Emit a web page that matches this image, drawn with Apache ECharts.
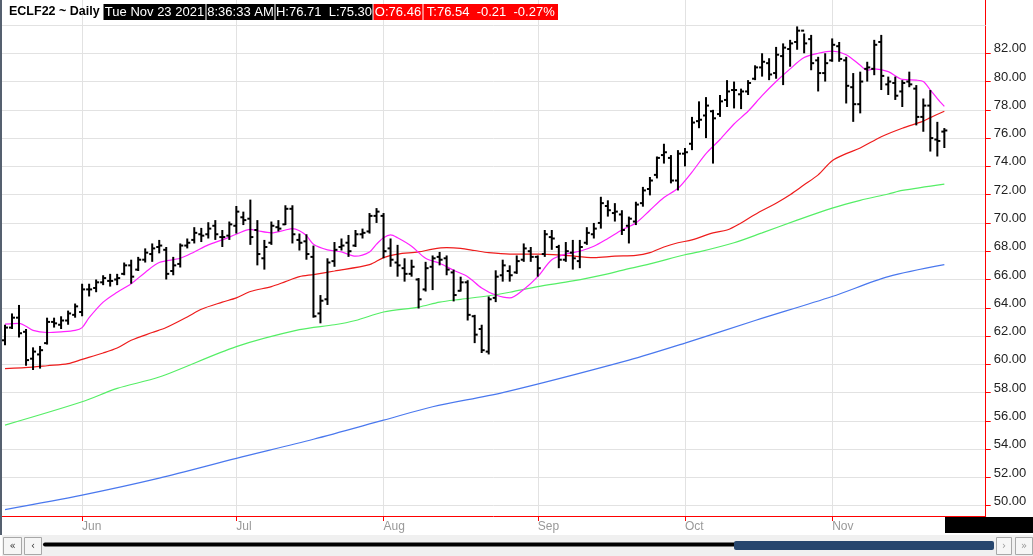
<!DOCTYPE html>
<html>
<head>
<meta charset="utf-8">
<title>ECLF22 ~ Daily</title>
<script src="https://cdn.jsdelivr.net/npm/echarts@6.0.0/dist/echarts.min.js"></script>
<style>
  html, body { margin: 0; padding: 0; background: #fff; }
  #chart { width: 1033px; height: 556px; }
</style>
</head>
<body>
<div id="chart"></div>
<script>
// trading days on the chart
var dates = [
  '2021-05-14','2021-05-17','2021-05-18','2021-05-19','2021-05-20','2021-05-21','2021-05-24','2021-05-25','2021-05-26','2021-05-27','2021-05-28',
  '2021-06-01','2021-06-02','2021-06-03','2021-06-04','2021-06-07','2021-06-08','2021-06-09','2021-06-10','2021-06-11','2021-06-14','2021-06-15',
  '2021-06-16','2021-06-17','2021-06-18','2021-06-21','2021-06-22','2021-06-23','2021-06-24','2021-06-25','2021-06-28','2021-06-29','2021-06-30',
  '2021-07-01','2021-07-02','2021-07-06','2021-07-07','2021-07-08','2021-07-09','2021-07-12','2021-07-13','2021-07-14','2021-07-15','2021-07-16',
  '2021-07-19','2021-07-20','2021-07-21','2021-07-22','2021-07-23','2021-07-26','2021-07-27','2021-07-28','2021-07-29','2021-07-30',
  '2021-08-02','2021-08-03','2021-08-04','2021-08-05','2021-08-06','2021-08-09','2021-08-10','2021-08-11','2021-08-12','2021-08-13','2021-08-16',
  '2021-08-17','2021-08-18','2021-08-19','2021-08-20','2021-08-23','2021-08-24','2021-08-25','2021-08-26','2021-08-27','2021-08-30','2021-08-31',
  '2021-09-01','2021-09-02','2021-09-03','2021-09-07','2021-09-08','2021-09-09','2021-09-10','2021-09-13','2021-09-14','2021-09-15','2021-09-16',
  '2021-09-17','2021-09-20','2021-09-21','2021-09-22','2021-09-23','2021-09-24','2021-09-27','2021-09-28','2021-09-29','2021-09-30',
  '2021-10-01','2021-10-04','2021-10-05','2021-10-06','2021-10-07','2021-10-08','2021-10-11','2021-10-12','2021-10-13','2021-10-14','2021-10-15',
  '2021-10-18','2021-10-19','2021-10-20','2021-10-21','2021-10-22','2021-10-25','2021-10-26','2021-10-27','2021-10-28','2021-10-29',
  '2021-11-01','2021-11-02','2021-11-03','2021-11-04','2021-11-05','2021-11-08','2021-11-09','2021-11-10','2021-11-11','2021-11-12','2021-11-15',
  '2021-11-16','2021-11-17','2021-11-18','2021-11-19','2021-11-22','2021-11-23'
];

var opens = [
  61.7, 62.6, 63.3, 62.3, 60.4, 60.7, 61.5, 63.0, 62.8, 63.1,
  63.5, 63.7, 65.3, 65.4, 65.8, 65.9, 66.0, 66.4, 67.0, 66.7,
  67.4, 67.8, 68.3, 68.1, 66.6, 67.1, 68.4, 68.8, 69.2, 69.2,
  69.8, 69.0, 69.1, 69.8, 70.4, 70.3, 69.5, 67.5, 68.6, 69.7,
  69.9, 71.0, 68.8, 68.7, 67.6, 63.6, 64.6, 67.3, 68.3, 68.6,
  68.4, 69.2, 69.4, 70.5, 70.5, 68.2, 67.2, 66.8, 66.4, 66.0,
  65.3, 66.9, 67.6, 67.5, 66.5, 65.2, 65.8, 63.4, 62.5, 60.9,
  64.7, 66.3, 66.6, 66.5, 67.4, 68.0, 67.6, 67.8, 69.0, 68.3,
  67.4, 67.9, 67.3, 68.6, 69.2, 70.0, 71.2, 70.7, 70.6, 69.8,
  70.1, 71.4, 72.4, 73.4, 74.8, 74.6, 73.0, 74.9, 75.6, 77.2,
  77.6, 77.9, 77.7, 78.7, 79.4, 79.1, 79.3, 80.2, 81.0, 81.3,
  80.6, 81.8, 82.3, 82.8, 83.6, 83.0, 81.5, 80.6, 81.5, 82.5,
  81.5, 79.6, 78.4, 80.9, 80.9, 82.8, 79.8, 79.9, 79.3, 80.0,
  79.5, 77.5, 78.3, 75.9, 76.46
];
var highs = [
  62.8, 63.6, 64.2, 62.5, 61.2, 61.3, 63.3, 63.3, 63.4, 63.8,
  64.3, 65.7, 65.7, 66.0, 66.3, 66.4, 66.4, 67.2, 67.4, 67.6,
  68.2, 68.55, 68.8, 68.3, 67.6, 68.55, 68.9, 69.7, 69.65, 70.05,
  70.2, 69.5, 70.1, 71.2, 70.8, 71.65, 70.2, 68.8, 70.1, 70.2,
  71.25, 71.25, 69.25, 69.2, 68.4, 64.9, 67.5, 68.65, 68.9, 69.15,
  69.5, 69.6, 70.7, 71.05, 70.7, 68.9, 68.45, 67.5, 67.4, 66.1,
  67.25, 67.7, 67.95, 67.7, 66.7, 66.2, 65.95, 63.5, 62.8, 64.8,
  66.65, 67.4, 67.0, 67.7, 68.55, 68.3, 67.7, 69.5, 69.5, 68.45,
  68.65, 68.8, 68.8, 69.7, 70.0, 71.85, 71.6, 71.4, 70.9, 70.45,
  71.5, 72.55, 73.25, 74.7, 75.6, 74.8, 75.15, 75.3, 77.5, 78.6,
  78.9, 78.0, 79.05, 80.1, 80.0, 79.5, 80.1, 81.15, 82.0, 81.65,
  82.45, 82.7, 82.95, 83.9, 83.4, 83.3, 81.75, 82.0, 83.05, 82.8,
  81.75, 80.6, 80.7, 81.4, 82.95, 83.3, 80.35, 80.35, 80.1, 80.7,
  79.75, 78.8, 79.4, 77.15, 76.71
];
var lows = [
  61.35, 62.5, 61.9, 59.9, 59.6, 59.7, 61.4, 62.6, 62.5, 62.8,
  63.3, 63.4, 64.8, 65.1, 65.6, 65.5, 65.6, 66.3, 65.7, 66.6,
  67.2, 67.25, 67.85, 66.0, 66.3, 66.85, 68.2, 68.55, 68.65, 68.9,
  68.8, 68.3, 68.8, 69.25, 69.85, 68.45, 67.0, 66.7, 68.45, 69.4,
  69.85, 68.55, 68.05, 67.4, 63.3, 62.9, 64.2, 66.9, 68.05, 67.6,
  68.3, 68.9, 69.25, 70.0, 67.5, 66.9, 66.2, 65.85, 66.2, 63.95,
  65.15, 65.25, 67.0, 66.3, 64.45, 65.15, 63.1, 61.5, 60.8, 60.7,
  64.4, 65.85, 65.85, 66.4, 67.25, 67.25, 66.2, 67.6, 68.1, 66.8,
  67.25, 66.7, 66.8, 68.45, 68.9, 69.6, 70.45, 70.1, 69.15, 68.55,
  69.85, 71.15, 71.95, 73.15, 74.2, 72.8, 72.3, 74.0, 75.15, 76.7,
  76.0, 74.2, 77.5, 78.2, 78.1, 78.05, 79.05, 80.1, 80.35, 80.1,
  80.2, 79.75, 81.05, 82.25, 82.0, 80.8, 79.3, 80.0, 81.4, 81.4,
  78.45, 77.15, 77.75, 80.0, 80.45, 79.4, 79.05, 78.7, 78.2, 79.6,
  76.9, 76.45, 75.05, 74.7, 75.30
];
var closes = [
  62.6, 63.3, 62.2, 60.3, 60.9, 61.0, 63.0, 62.9, 63.1, 63.6,
  64.1, 65.3, 65.3, 65.8, 66.1, 65.9, 66.1, 67.0, 66.2, 67.4,
  67.9, 68.2, 68.4, 66.4, 67.0, 68.4, 68.6, 69.3, 69.1, 69.6,
  69.2, 69.0, 69.9, 70.8, 70.2, 69.0, 67.8, 68.3, 69.8, 69.6,
  71.0, 69.2, 68.6, 67.8, 63.4, 64.5, 67.2, 68.1, 68.4, 68.0,
  69.2, 69.3, 70.5, 70.8, 68.0, 67.4, 67.0, 66.4, 66.9, 64.6,
  66.8, 67.5, 67.4, 66.7, 64.9, 65.8, 63.5, 62.1, 61.0, 64.6,
  66.2, 67.0, 66.3, 67.3, 68.2, 67.6, 66.8, 69.2, 68.9, 67.4,
  68.0, 67.5, 68.3, 69.3, 69.6, 71.4, 70.9, 70.8, 69.5, 70.3,
  71.3, 72.3, 73.0, 74.6, 75.0, 73.0, 74.9, 75.0, 77.1, 77.3,
  78.3, 77.4, 78.6, 79.3, 79.4, 79.3, 79.9, 81.0, 81.4, 80.5,
  81.9, 82.4, 82.7, 83.6, 82.7, 81.3, 80.6, 81.3, 82.6, 81.6,
  79.7, 78.4, 80.0, 81.0, 82.6, 80.4, 80.0, 79.0, 79.9, 79.8,
  77.5, 78.3, 76.0, 75.8, 76.54
];

// moving averages: [bar index, value]
var maFast = [
  [0,62.85],[2,62.9],[4,62.4],[6,62.25],[8,62.3],[10,62.4],[11,62.6],[12,63.3],[14,64.4],[16,65.1],
  [18,65.7],[20,66.5],[22,67.2],[25,67.5],[27,67.95],[29,68.45],[31,68.8],[33,69.2],[35,69.55],[36,69.45],
  [38,69.3],[40,69.5],[41,69.6],[42,69.45],[43,69.1],[44,68.5],[46,68.1],[48,67.95],[50,67.65],[52,67.95],
  [53,68.5],[54,68.95],[55,69.15],[56,68.95],[58,68.35],[60,67.5],[62,67.15],[64,66.65],[66,66.2],[68,65.4],
  [70,64.9],[72,64.7],[74,65.3],[76,66.2],[78,67.4],[80,67.8],[82,68.0],[84,68.35],[86,68.9],[88,69.5],
  [90,70.0],[92,70.9],[94,71.8],[96,72.45],[98,73.6],[100,74.9],[102,75.9],[104,77.0],[106,77.9],[108,79.0],
  [110,80.0],[112,80.9],[114,81.7],[116,82.0],[118,82.15],[120,81.9],[122,81.15],[123,80.8],[124,80.9],[126,80.7],
  [128,80.15],[130,80.1],[131,80.0],[132,79.4],[133,78.8],[134,78.25]
];
var maMid = [
  [0,59.7],[4,59.8],[6,59.9],[9,60.05],[11,60.35],[14,60.8],[16,61.15],[18,61.7],[21,62.25],[23,62.6],
  [26,63.35],[28,63.9],[31,64.4],[33,64.7],[35,65.15],[38,65.5],[40,65.85],[42,66.2],[44,66.35],[47,66.6],
  [52,67.05],[54,67.55],[56,67.8],[59,67.95],[61,68.15],[63,68.25],[65,68.2],[67,68.05],[69,67.9],[72,67.8],
  [76,67.8],[80,67.7],[84,67.55],[87,67.65],[90,67.7],[92,67.9],[94,68.3],[96,68.6],[98,68.8],[101,69.3],
  [103,69.5],[105,70.0],[107,70.6],[110,71.4],[112,72.0],[114,72.7],[116,73.4],[118,74.4],[120,74.9],[122,75.3],
  [125,76.1],[128,76.7],[131,77.2],[132,77.45],[134,77.9]
];
var maSlow = [
  [0,55.7],[11,57.35],[16,58.3],[22,59.1],[33,61.25],[42,62.45],[47,62.8],[50,63.1],[54,63.7],[59,64.05],
  [62,64.4],[65,64.6],[69,64.85],[72,65.1],[76,65.5],[81,65.9],[86,66.4],[88,66.65],[92,67.1],[97,67.75],
  [99,67.95],[104,68.6],[108,69.3],[113,70.2],[118,71.05],[122,71.6],[126,72.05],[128,72.3],[134,72.75]
];
var maLong = [
  [0,49.73],[11,50.75],[22,51.95],[33,53.35],[44,54.7],[54,56.05],[61,57.0],[71,58.0],[89,60.3],[97,61.5],
  [107,63.1],[118,64.8],[126,66.2],[134,67.05]
];

var monthNames = ['Jan','Feb','Mar','Apr','May','Jun','Jul','Aug','Sep','Oct','Nov','Dec'];
var priceTicks = [50,52,54,56,58,60,62,64,66,68,70,72,74,76,78,80,82];

var headerTitle = 'ECLF22 ~ Daily';
var headerBoxes = [
  { x: 103.5, w: 102, color: '#000', text: 'Tue Nov 23 2021' },
  { x: 206.5, w: 68, color: '#000', text: '8:36:33 AM' },
  { x: 275.5, w: 97, color: '#000', text: 'H:76.71  L:75.30' },
  { x: 373.5, w: 49, color: '#ff0000', text: 'O:76.46' },
  { x: 423.5, w: 134.5, color: '#ff0000', text: 'T:76.54  -0.21  -0.27%' }
];

var ohlc = dates.map(function (d, i) {
  return [i, opens[i], highs[i], lows[i], closes[i]];
});
// first bar of each month gets a tick
var monthStarts = [];
dates.forEach(function (d, i) {
  if (i > 0 && d.slice(5, 7) !== dates[i - 1].slice(5, 7)) monthStarts.push(i);
});

function renderOhlc(params, api) {
  var i = api.value(0);
  var op = api.coord([i, api.value(1)]);
  var hi = api.coord([i, api.value(2)]);
  var lo = api.coord([i, api.value(3)]);
  var cl = api.coord([i, api.value(4)]);
  var st = { stroke: '#000', lineWidth: 2 };
  return {
    type: 'group',
    children: [
      { type: 'line', shape: { x1: hi[0], y1: hi[1], x2: lo[0], y2: lo[1] }, style: st },
      { type: 'line', shape: { x1: op[0] - 3, y1: op[1], x2: op[0], y2: op[1] }, style: st },
      { type: 'line', shape: { x1: cl[0], y1: cl[1], x2: cl[0] + 3, y2: cl[1] }, style: st }
    ]
  };
}

function maLine(data, color) {
  return {
    type: 'line', xAxisIndex: 0, yAxisIndex: 0, data: data,
    showSymbol: false, symbol: 'none', silent: true, z: 2, smooth: 0.3,
    lineStyle: { color: color, width: 1.2 }
  };
}

var graphics = [
  // window edge
  { type: 'rect', z: 100, shape: { x: 0, y: 0, width: 2, height: 535 }, style: { fill: '#55606f' } },
  { type: 'text', z: 100, x: 9, y: 12, style: { text: headerTitle, fill: '#000', font: 'bold 12.5px "Liberation Sans"', verticalAlign: 'middle' } },
  // box under the x labels at right
  { type: 'rect', z: 100, shape: { x: 945, y: 517, width: 88, height: 16 }, style: { fill: '#000' } },
  // scroll bar
  { type: 'rect', z: 100, shape: { x: 2, y: 535, width: 1031, height: 21 }, style: { fill: '#f0f0f0' } },
  { type: 'rect', z: 101, shape: { x: 3.5, y: 537.5, width: 18, height: 17 }, style: { fill: '#f6f6f6', stroke: '#a8a8a8' } },
  { type: 'rect', z: 101, shape: { x: 24.5, y: 537.5, width: 17, height: 17 }, style: { fill: '#f6f6f6', stroke: '#a8a8a8' } },
  { type: 'rect', z: 101, shape: { x: 996.5, y: 537.5, width: 15, height: 17 }, style: { fill: '#f6f6f6', stroke: '#a8a8a8' } },
  { type: 'rect', z: 101, shape: { x: 1015.5, y: 537.5, width: 17, height: 17 }, style: { fill: '#f6f6f6', stroke: '#a8a8a8' } },
  { type: 'text', z: 102, x: 12.5, y: 546, style: { text: '«', fill: '#333', font: '10px "DejaVu Sans"', align: 'center', verticalAlign: 'middle' } },
  { type: 'text', z: 102, x: 33, y: 546, style: { text: '‹', fill: '#333', font: '10px "DejaVu Sans"', align: 'center', verticalAlign: 'middle' } },
  { type: 'text', z: 102, x: 1004, y: 546, style: { text: '›', fill: '#999', font: '10px "DejaVu Sans"', align: 'center', verticalAlign: 'middle' } },
  { type: 'text', z: 102, x: 1024, y: 546, style: { text: '»', fill: '#999', font: '10px "DejaVu Sans"', align: 'center', verticalAlign: 'middle' } },
  { type: 'line', z: 101, shape: { x1: 45, y1: 544.5, x2: 736, y2: 544.5 }, style: { stroke: '#000', lineWidth: 4, lineCap: 'round' } },
  { type: 'rect', z: 102, shape: { x: 734, y: 541, width: 260, height: 9, r: 2 }, style: { fill: '#27466e' } }
];
headerBoxes.forEach(function (b) {
  graphics.push({ type: 'rect', z: 100, shape: { x: b.x, y: 4, width: b.w, height: 16 }, style: { fill: b.color } });
  graphics.push({ type: 'text', z: 101, x: b.x + b.w / 2, y: 12.5, style: { text: b.text, fill: '#fff', font: '13px "Liberation Sans"', align: 'center', verticalAlign: 'middle' } });
});

var chart = echarts.init(document.getElementById('chart'), null, { renderer: 'canvas' });
chart.setOption({
  animation: false,
  backgroundColor: '#fff',
  grid: [
    { left: 1.5, right: 47.3, top: 25, bottom: 22 },
    { left: 1.5, right: 47.3, top: 0, bottom: 40 }
  ],
  xAxis: [
    { gridIndex: 0, type: 'value', min: -0.5, max: 139.9, show: false },
    {
      gridIndex: 1, type: 'value', min: -0.5, max: 139.9, position: 'bottom',
      axisLine: { onZero: false, lineStyle: { color: '#ff0000', width: 1 } },
      axisTick: { customValues: monthStarts, length: 5, lineStyle: { color: '#ff0000' } },
      axisLabel: {
        customValues: monthStarts, color: '#999', fontSize: 12, fontFamily: 'Liberation Sans',
        align: 'left', margin: 5,
        formatter: function (v) { return monthNames[Number(dates[Math.round(v)].slice(5, 7)) - 1]; }
      },
      splitLine: { show: true, lineStyle: { color: '#e2e2e2', width: 1 } }
    }
  ],
  yAxis: [
    {
      gridIndex: 0, type: 'value', min: 48, max: 84, interval: 2, position: 'right',
      axisLine: { show: false, onZero: false },
      axisTick: { show: true, customValues: priceTicks, length: 5, lineStyle: { color: '#ff0000' } },
      axisLabel: {
        customValues: priceTicks, color: '#222', fontSize: 13, fontFamily: 'Liberation Sans',
        margin: 8, verticalAlign: 'bottom', lineHeight: 9,
        formatter: function (v) { return v.toFixed(2); }
      },
      splitLine: { show: true, lineStyle: { color: '#e2e2e2', width: 1 } }
    },
    {
      gridIndex: 1, type: 'value', min: 0, max: 1, position: 'right',
      axisLine: { show: true, onZero: false, lineStyle: { color: '#ff0000', width: 1 } },
      axisTick: { show: false }, axisLabel: { show: false }, splitLine: { show: false }
    }
  ],
  series: [
    maLine(maLong, '#4a78ee'),
    maLine(maSlow, '#55ee66'),
    maLine(maMid, '#ee1c1c'),
    maLine(maFast, '#ff22ff'),
    {
      type: 'custom', xAxisIndex: 0, yAxisIndex: 0, z: 3,
      renderItem: renderOhlc, data: ohlc, silent: true,
      encode: { x: 0, y: [1, 2, 3, 4] },
      markLine: {
        silent: true, symbol: 'none', label: { show: false },
        lineStyle: { color: '#e2e2e2', type: 'solid', width: 1 },
        data: [{ yAxis: 84 }]
      }
    }
  ],
  graphic: graphics
});
</script>
</body>
</html>
